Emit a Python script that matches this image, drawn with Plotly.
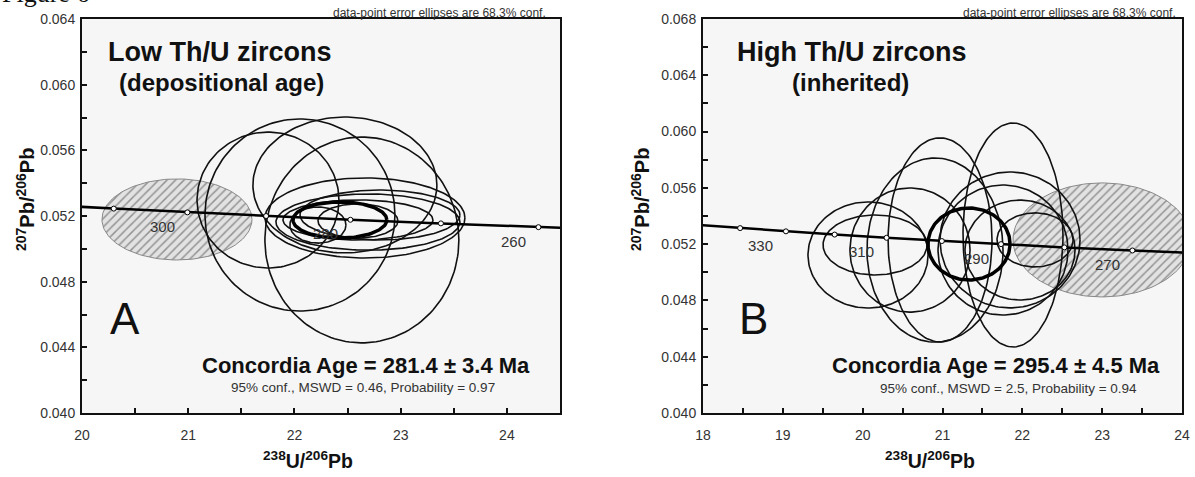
import numpy as np
import plotly.graph_objects as go

W, H = 1195, 477

# ---------------- data ----------------
# concordia reference points (age in Ma, 238U/206Pb, 207Pb/206Pb)
conc_age = [250, 260, 270, 280, 290, 300, 310, 320, 330, 340, 350]
conc_x = [25.289, 24.297, 23.379, 22.527, 21.733, 20.992, 20.299, 19.649, 19.039, 18.465, 17.923]
conc_y = [0.05110, 0.05132, 0.05155, 0.05177, 0.05200, 0.05222, 0.05245, 0.05268, 0.05291, 0.05314, 0.05337]
labels_a = [300, 280, 260]
labels_b = [330, 310, 290, 270]

# Panel A: data-point error ellipses (centre x, centre y, half-width x, half-height y)
a_cx = [22.635, 22.052, 21.751, 22.475, 22.664, 22.692, 22.598, 22.598, 22.221, 22.805]
a_cy = [0.05054, 0.05206, 0.05297, 0.05389, 0.05188, 0.05163, 0.05176, 0.05170, 0.05145, 0.05206]
a_rx = [0.913, 0.894, 0.668, 0.866, 0.941, 0.866, 0.706, 0.376, 0.264, 0.753]
a_ry = [0.00627, 0.00585, 0.00414, 0.00414, 0.00244, 0.00171, 0.00122, 0.00104, 0.00110, 0.00152]
a_hatch = [20.894, 0.05179, 0.706, 0.00247]
a_conc = [22.428, 0.05176, 0.442, 0.00110]

# Panel B
b_cx = [20.155, 20.067, 21.883, 20.969, 20.906, 20.593, 21.846, 21.758, 21.971, 22.159]
b_cy = [0.05194, 0.05123, 0.05265, 0.05230, 0.05158, 0.05158, 0.05230, 0.05158, 0.05158, 0.05230]
b_rx = [0.651, 0.752, 0.626, 0.651, 0.852, 0.752, 0.877, 0.814, 0.689, 0.476]
b_ry = [0.00213, 0.00377, 0.00796, 0.00725, 0.00654, 0.00441, 0.00483, 0.00462, 0.00355, 0.00192]
b_hatch = [22.998, 0.05230, 1.115, 0.00405]
b_conc = [21.332, 0.05201, 0.514, 0.00256]

FONT = "Liberation Sans, Arial, sans-serif"


def ell(cx, cy, rx, ry, n=160):
    t = np.linspace(0, 2 * np.pi, n)
    return cx + rx * np.cos(t), cy + ry * np.sin(t)


fig = go.Figure()


def panel(xa, ya, cx, cy, rx, ry, hatch, conc, labels):
    hx, hy = ell(*hatch)
    fig.add_trace(go.Scatter(x=hx, y=hy, mode="lines", fill="toself",
                             fillcolor="#e0e0e0",
                             fillpattern=dict(shape="/", fgcolor="#444444", bgcolor="#e2e2e2",
                                              size=6, solidity=0.25),
                             line=dict(color="#888888", width=1),
                             xaxis=xa, yaxis=ya, showlegend=False, hoverinfo="skip"))
    for i in range(len(cx)):
        ex, ey = ell(cx[i], cy[i], rx[i], ry[i])
        fig.add_trace(go.Scatter(x=ex, y=ey, mode="lines",
                                 line=dict(color="#111111", width=1.6),
                                 xaxis=xa, yaxis=ya, showlegend=False, hoverinfo="skip"))
    ex, ey = ell(*conc)
    fig.add_trace(go.Scatter(x=ex, y=ey, mode="lines",
                             line=dict(color="#000000", width=3.5),
                             xaxis=xa, yaxis=ya, showlegend=False, hoverinfo="skip"))
    fig.add_trace(go.Scatter(x=conc_x, y=conc_y, mode="lines+markers",
                             line=dict(color="#000000", width=2.5),
                             marker=dict(symbol="circle", size=5, color="white",
                                         line=dict(color="#000", width=1)),
                             xaxis=xa, yaxis=ya, showlegend=False, hoverinfo="skip"))
    xr = "x" if xa == "x" else "x2"
    yr = "y" if ya == "y" else "y2"
    for a in labels:
        k = conc_age.index(a)
        fig.add_annotation(x=conc_x[k], y=conc_y[k], xref=xr, yref=yr, text=str(a),
                           showarrow=False, xshift=-25, yshift=-14,
                           font=dict(family=FONT, size=15, color="#333333"))


panel("x", "y", a_cx, a_cy, a_rx, a_ry, a_hatch, a_conc, labels_a)
panel("x2", "y2", b_cx, b_cy, b_rx, b_ry, b_hatch, b_conc, labels_b)

ydom = [1 - 413 / H, 1 - 19 / H]
axcommon = dict(showgrid=False, zeroline=False, showline=True, linecolor="#111111",
                linewidth=2, mirror=True, ticks="inside", ticklen=5, tickwidth=1.5,
                tickcolor="#111111", automargin=False,
                tickfont=dict(family=FONT, size=14, color="#333333"))

fig.update_layout(
    width=W, height=H,
    margin=dict(l=0, r=0, t=0, b=0),
    paper_bgcolor="white", plot_bgcolor="#f6f6f6",
    xaxis=dict(domain=[82 / W, 560 / W], range=[20, 24.5], dtick=1, anchor="y",
               minor=dict(ticks="inside", dtick=0.5, ticklen=5, tickcolor="#111111"),
               ticklabelstandoff=8, **axcommon),
    yaxis=dict(domain=ydom, range=[0.040, 0.064], dtick=0.004, tickformat=".3f", anchor="x",
               minor=dict(ticks="inside", dtick=0.002, ticklen=5, tickcolor="#111111"),
               ticklabelstandoff=2, **axcommon),
    xaxis2=dict(domain=[703 / W, 1182 / W], range=[18, 24], dtick=1, anchor="y2",
                minor=dict(ticks="inside", dtick=0.5, ticklen=5, tickcolor="#111111"),
                ticklabelstandoff=8, **axcommon),
    yaxis2=dict(domain=ydom, range=[0.040, 0.068], dtick=0.004, tickformat=".3f", anchor="x2",
                minor=dict(ticks="inside", dtick=0.002, ticklen=5, tickcolor="#111111"),
                ticklabelstandoff=2, **axcommon),
)


def txt(px, py, s, size, bold=False, color="#111111", rot=0, family=FONT, xanchor="center"):
    if bold:
        s = "<b>" + s + "</b>"
    fig.add_annotation(x=px / W, y=1 - py / H, xref="paper", yref="paper", text=s,
                       showarrow=False, xanchor=xanchor, yanchor="middle", textangle=rot,
                       font=dict(family=family, size=size, color=color))


txt(0, -7, "Figure 6", 26, family="Liberation Serif, Times New Roman, serif", xanchor="left")

txt(220, 52, "Low Th/U zircons", 27, bold=True)
txt(221, 82, "(depositional age)", 24, bold=True)
txt(852, 52, "High Th/U zircons", 27, bold=True)
txt(850, 82, "(inherited)", 24, bold=True)

txt(439, 13, "data-point error ellipses are 68.3% conf.", 12, color="#333333")
txt(1069, 13, "data-point error ellipses are 68.3% conf.", 12, color="#333333")

txt(125, 318, "A", 44, color="#111111")
txt(753, 318, "B", 44, color="#111111")

txt(366, 365, "Concordia Age = 281.4 ± 3.4 Ma", 22, bold=True)
txt(363, 387, "95% conf., MSWD = 0.46, Probability = 0.97", 13.5, color="#333333")
txt(996, 365, "Concordia Age = 295.4 ± 4.5 Ma", 22, bold=True)
txt(1008, 388, "95% conf., MSWD = 2.5, Probability = 0.94", 13.5, color="#333333")

ytitle = "<sup>207</sup>Pb/<sup>206</sup>Pb"
xtitle = "<sup>238</sup>U/<sup>206</sup>Pb"
txt(25, 200, ytitle, 20, bold=True, rot=-90)
txt(640, 200, ytitle, 20, bold=True, rot=-90)
txt(308, 460, xtitle, 19.5, bold=True)
txt(930, 460, xtitle, 19.5, bold=True)

fig.write_html("out.html", config={"displayModeBar": False},
               post_script="document.body.style.margin='0';document.body.style.overflow='hidden';")
